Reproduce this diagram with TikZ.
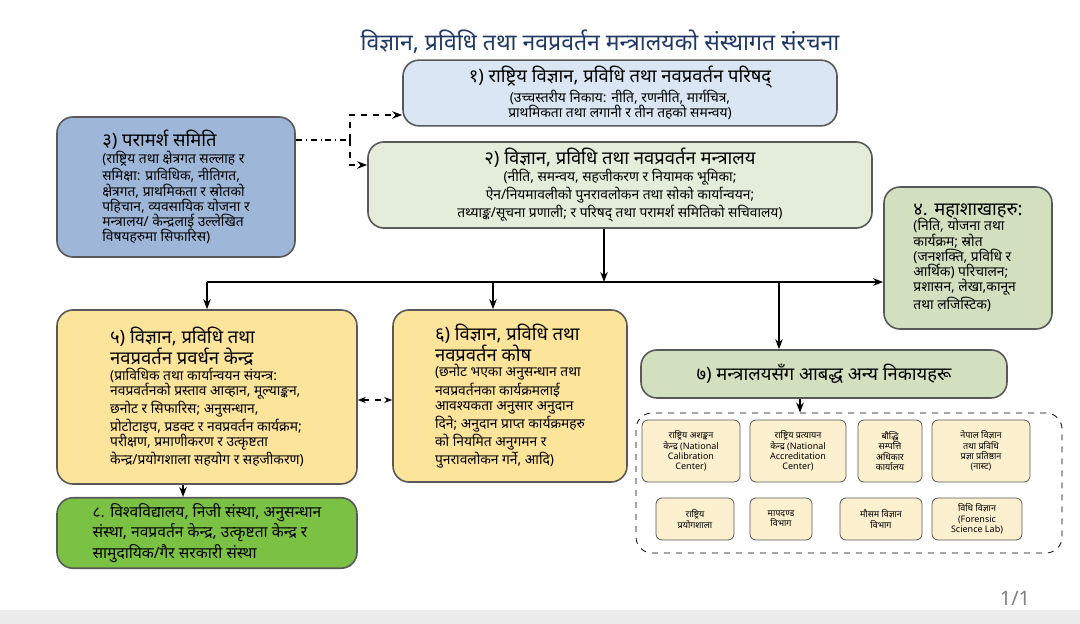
\documentclass[tikz,border=0pt]{standalone}
\usepackage{fontspec}
\setmainfont[Script=Devanagari]{Noto Sans}
\usetikzlibrary{arrows.meta}
\definecolor{tb}{HTML}{1F3864}
\definecolor{lb}{HTML}{DAE6F4}
\definecolor{mb}{HTML}{9EB7D9}
\definecolor{lg}{HTML}{E3EDDA}
\definecolor{mg}{HTML}{D2E0C0}
\definecolor{yl}{HTML}{FDE49B}
\definecolor{gg}{HTML}{7BC143}
\definecolor{sy}{HTML}{FDF0CF}
\newcommand{\hd}{\fontsize{9.2}{10.5}\selectfont}
\newcommand{\bd}{\fontsize{6.9}{7.6}\selectfont}
\begin{document}
\begin{tikzpicture}[x=0.5pt,y=-0.5pt,
 box/.style={draw=gray!70!black,rounded corners=8pt,line width=0.8pt,align=left,inner sep=3pt,text=black,font=\bd},
 sm/.style={draw=gray!70!black,rounded corners=3pt,fill=sy,font=\fontsize{4.5}{5.2}\selectfont,align=center,inner sep=1pt},
 arr/.style={-{Stealth[length=5pt]},line width=0.7pt}]
\useasboundingbox (0,0) rectangle (1080,624);
\fill[white] (0,0) rectangle (1080,624);
\fill[gray!15] (0,610) rectangle (1080,624);
\node[text=gray] (pg) at (1015,598) {1/1};
\node[font=\bfseries\fontsize{11.5}{13}\selectfont,text=tb] (t) at (600,42) {विज्ञान, प्रविधि तथा नवप्रवर्तन मन्त्रालयको संस्थागत संरचना};
\node[box,fill=lb,minimum width=217pt,minimum height=31pt,align=center] (b1) at (620,93) {{\hd १) राष्ट्रिय विज्ञान, प्रविधि तथा नवप्रवर्तन परिषद्}\\ (उच्चस्तरीय निकाय: नीति, रणनीति, मार्गचित्र,\\ प्राथमिकता तथा लगानी र तीन तहको समन्वय)};
\node[box,fill=mb,minimum width=119pt,minimum height=70pt] (b3) at (176,187) {{\hd ३) परामर्श समिति}\\ (राष्ट्रिय तथा क्षेत्रगत सल्लाह र\\ समिक्षा: प्राविधिक, नीतिगत,\\ क्षेत्रगत, प्राथमिकता र स्रोतको\\ पहिचान, व्यवसायिक योजना र\\ मन्त्रालय/ केन्द्रलाई उल्लेखित\\ विषयहरुमा सिफारिस)};
\node[box,fill=lg,minimum width=252pt,minimum height=43pt,align=center] (b2) at (620,185) {{\hd २) विज्ञान, प्रविधि तथा नवप्रवर्तन मन्त्रालय}\\ (नीति, समन्वय, सहजीकरण र नियामक भूमिका;\\ ऐन/नियमावलीको पुनरावलोकन तथा सोको कार्यान्वयन;\\ तथ्याङ्क/सूचना प्रणाली; र परिषद् तथा परामर्श समितिको सचिवालय)};
\node[box,fill=mg,minimum width=84pt,minimum height=71pt] (b4) at (968,258) {{\hd ४. महाशाखाहरु:}\\ (निति, योजना तथा\\ कार्यक्रम; स्रोत\\ (जनशक्ति, प्रविधि र\\ आर्थिक) परिचालन;\\ प्रशासन, लेखा,कानून\\ तथा लजिस्टिक)};
\node[box,fill=yl,minimum width=150pt,minimum height=87pt] (b5) at (207,397) {{\hd ५) विज्ञान, प्रविधि तथा}\\ {\hd नवप्रवर्तन प्रवर्धन केन्द्र}\\ (प्राविधिक तथा कार्यान्वयन संयन्त्र:\\ नवप्रवर्तनको प्रस्ताव आव्हान, मूल्याङ्कन,\\ छनोट र सिफारिस; अनुसन्धान,\\ प्रोटोटाइप, प्रडक्ट र नवप्रवर्तन कार्यक्रम;\\ परीक्षण, प्रमाणीकरण र उत्कृष्टता\\ केन्द्र/प्रयोगशाला सहयोग र सहजीकरण)};
\node[box,fill=yl,minimum width=117pt,minimum height=86pt] (b6) at (510,396) {{\hd ६) विज्ञान, प्रविधि तथा}\\ {\hd नवप्रवर्तन कोष}\\ (छनोट भएका अनुसन्धान तथा\\ नवप्रवर्तनका कार्यक्रमलाई\\ आवश्यकता अनुसार अनुदान\\ दिने; अनुदान प्राप्त कार्यक्रमहरु\\ को नियमित अनुगमन र\\ पुनरावलोकन गर्ने, आदि)};
\node[box,fill=mg,minimum width=183pt,minimum height=24pt,align=center,font=\hd] (b7) at (824,374) {७) मन्त्रालयसँग आबद्ध अन्य निकायहरू};
\node[box,fill=gg,minimum width=150pt,minimum height=35pt,font=\fontsize{7.8}{9}\selectfont] (b8) at (207,533) {८. विश्वविद्यालय, निजी संस्था, अनुसन्धान\\ संस्था, नवप्रवर्तन केन्द्र, उत्कृष्टता केन्द्र र\\ सामुदायिक/गैर सरकारी संस्था};
\node[draw,dashed,rounded corners=8pt,minimum width=213pt,minimum height=70pt] (grp) at (849,483) {};
\node[sm,minimum width=49pt,minimum height=31pt] (s1) at (691,451) {राष्ट्रिय अशङ्कन\\केन्द्र (National\\Calibration\\Center)};
\node[sm,minimum width=48pt,minimum height=31pt] (s2) at (798,451) {राष्ट्रिय प्रत्यायन\\केन्द्र (National\\Accreditation\\Center)};
\node[sm,minimum width=32pt,minimum height=31pt] (s3) at (890,451) {बौद्धि\\सम्पत्ति\\अधिकार\\कार्यालय};
\node[sm,minimum width=49pt,minimum height=31pt] (s4) at (981,451) {नेपाल विज्ञान\\तथा प्रविधि\\प्रज्ञा प्रतिष्ठान\\(नास्ट)};
\node[sm,minimum width=39pt,minimum height=21pt] (s5) at (695,519) {राष्ट्रिय\\प्रयोगशाला};
\node[sm,minimum width=31pt,minimum height=21pt] (s6) at (781,519) {मापदण्ड\\विभाग};
\node[sm,minimum width=41pt,minimum height=21pt] (s7) at (881,519) {मौसम विज्ञान\\विभाग};
\node[sm,minimum width=45pt,minimum height=21pt] (s8) at (977,519) {विधि विज्ञान\\(Forensic\\Science Lab)};
\coordinate (j) at (604,282);
\draw[arr] (b2.south -| j) -- (j);
\draw[line width=0.7pt] (207,282) -- (779,282);
\draw[arr] (779,282) -- (b4.west |- j);
\draw[arr] (207,282) -- (b5.north);
\draw[arr] (493,282) -- (b6.north -| 493,0);
\draw[arr] (779,282) -- (b7.north -| 779,0);
\draw[dash dot,line width=0.6pt] (b3.east |- 0,140) -- (350,140);
\draw[arr,dashed] (350,140) -- (350,115) -- (b1.west |- 0,115);
\draw[arr,dashed] (350,140) -- (350,165) -- (b2.west |- 0,165);
\draw[{Stealth[length=4pt]}-{Stealth[length=4pt]},dashed,line width=0.6pt] (b5.east |- 0,400) -- (b6.west |- 0,400);
\draw[arr] (b5.south -| 183,0) -- (b8.north -| 183,0);
\draw[arr] (b7.south -| 800,0) -- (grp.north -| 800,0);
\end{tikzpicture}
\end{document}
